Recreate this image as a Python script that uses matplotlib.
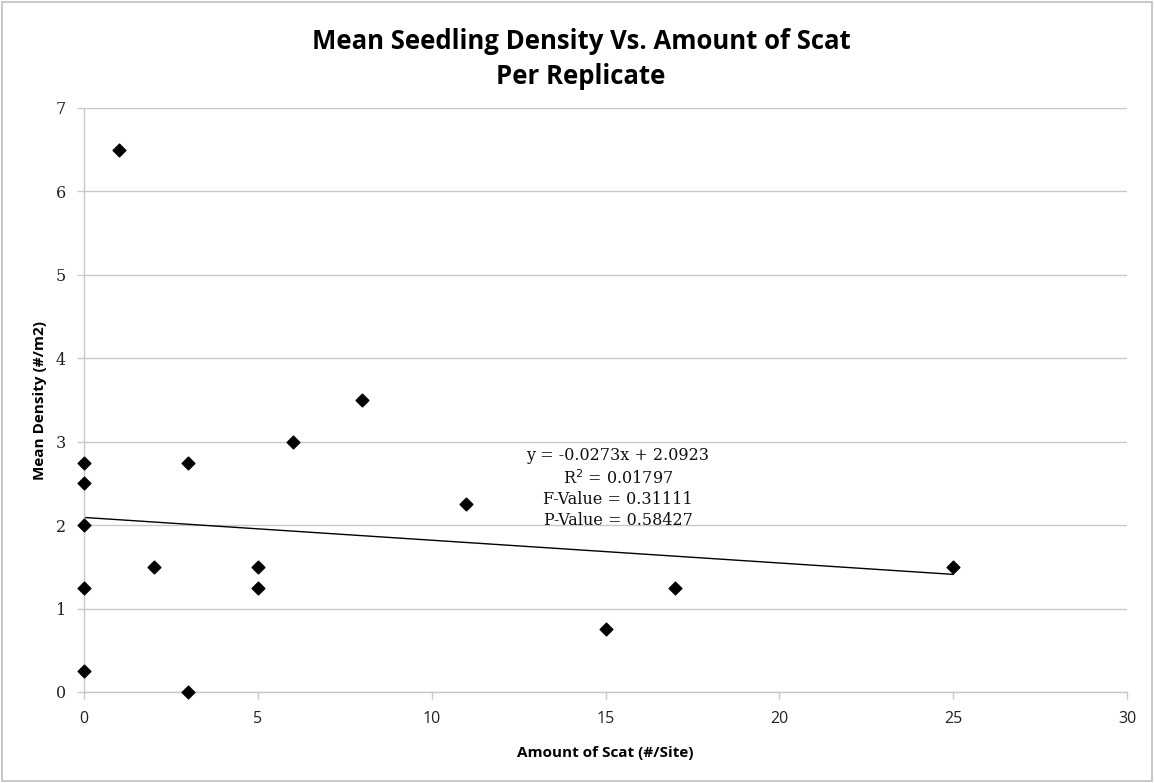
import matplotlib
matplotlib.use("Agg")
import matplotlib.pyplot as plt
from matplotlib.patches import Rectangle
import numpy as np

scat = [0, 0, 0, 0, 0, 1, 2, 3, 3, 5, 5, 6, 8, 11, 15, 17, 25]
density = [2.75, 2.5, 2.0, 1.25, 0.25, 6.5, 1.5, 2.75, 0.0, 1.5, 1.25, 3.0, 3.5, 2.25, 0.75, 1.25, 1.5]
slope, intercept = -0.0273, 2.0923
x_ticks = [0, 5, 10, 15, 20, 25, 30]
y_ticks = [0, 1, 2, 3, 4, 5, 6, 7]
stats_text = "y = -0.0273x + 2.0923\nR$^2$ = 0.01797\nF-Value = 0.31111\nP-Value = 0.58427"

fig = plt.figure(figsize=(11.54, 7.83), dpi=100)
fig.patches.append(Rectangle((0.002, 0.003), 0.996, 0.994, transform=fig.transFigure,
                             fill=False, edgecolor="#bfbfbf", linewidth=1.2))
ax = fig.add_axes([84/1154, 1-692/783, (1127-84)/1154, (692-108)/783])

grid_c = "#c8c8c8"
ax.set_xlim(0, 30)
ax.set_ylim(0, 7)
ax.set_yticks(y_ticks)
ax.set_xticks(x_ticks)
ax.yaxis.grid(True, color=grid_c, linewidth=1)
ax.set_axisbelow(True)
for s in ["top", "right"]:
    ax.spines[s].set_visible(False)
for s in ["left", "bottom"]:
    ax.spines[s].set_color(grid_c)
    ax.spines[s].set_linewidth(1)
ax.tick_params(axis="both", colors=grid_c, length=5, width=1, direction="out")
ax.tick_params(axis="y", labelcolor="#222222", pad=8)
ax.tick_params(axis="x", labelcolor="#222222", pad=9)
for lab in ax.get_yticklabels():
    lab.set_fontfamily("DejaVu Serif")
    lab.set_fontsize(11.5)
for lab in ax.get_xticklabels():
    lab.set_fontfamily("Open Sans")
    lab.set_fontsize(11.5)

xs = np.array([0, 25])
ax.plot(xs, slope*xs + intercept, color="black", linewidth=1)
ax.scatter(scat, density, marker="D", s=42, color="black", zorder=3, clip_on=False)

ax.text(15.36, 2.44, stats_text, ha="center", va="center",
        fontfamily="DejaVu Serif", fontsize=11.5, linespacing=1.3, color="#111111")

fig.text(581/1154, 1-59/783, "Mean Seedling Density Vs. Amount of Scat\nPer Replicate",
         ha="center", va="center", fontfamily="Open Sans", fontweight="bold", fontsize=18.5,
         linespacing=1.35)
fig.text(605/1154, 1-753/783, "Amount of Scat (#/Site)", ha="center", va="center",
         fontfamily="Open Sans", fontweight="bold", fontsize=11)
fig.text(40/1154, 1-400/783, "Mean Density (#/m2)", ha="center", va="center", rotation=90,
         fontfamily="Open Sans", fontweight="bold", fontsize=11)

fig.savefig("out.png", dpi=100)
